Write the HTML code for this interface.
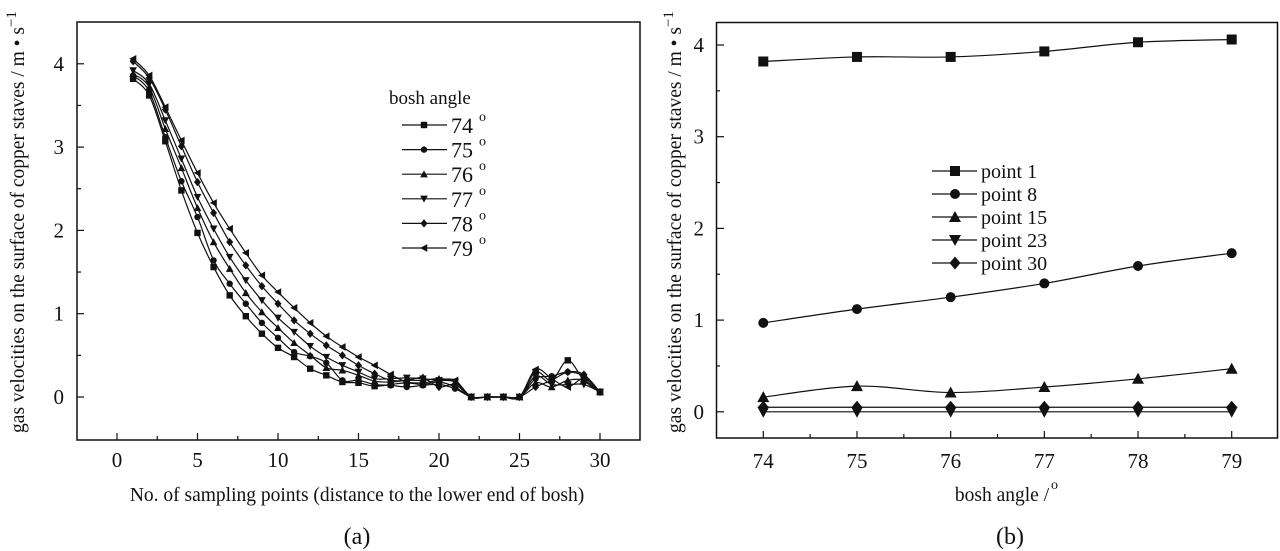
<!DOCTYPE html>
<html><head><meta charset="utf-8"><style>
html,body{margin:0;padding:0;background:#fff;}
svg{display:block;font-family:"Liberation Serif",serif;}
</style></head><body>
<svg id="fig" width="1280" height="551" viewBox="0 0 1280 551" xmlns="http://www.w3.org/2000/svg"></svg>
<script>
// ---- Panel (a) data ----
const aPoints = [1,2,3,4,5,6,7,8,9,10,11,12,13,14,15,16,17,18,19,20,21,22,23,24,25,26,27,28,29,30];
const aLabels = ['74','75','76','77','78','79'];
const a74 = [3.82,3.62,3.07,2.48,1.97,1.56,1.22,0.97,0.76,0.59,0.48,0.34,0.26,0.18,0.17,0.13,0.15,0.17,0.15,0.18,0.12,0,0,0,0,0.30,0.20,0.44,0.20,0.06];
const a75 = [3.86,3.67,3.12,2.59,2.16,1.64,1.36,1.12,0.89,0.71,0.54,0.49,0.41,0.20,0.20,0.15,0.14,0.12,0.14,0.15,0.10,0,0,0,0,0.22,0.25,0.30,0.25,0.06];
const a76 = [3.88,3.72,3.22,2.75,2.27,1.86,1.54,1.25,1.02,0.83,0.65,0.50,0.35,0.32,0.26,0.19,0.18,0.20,0.20,0.22,0.18,0,0,0,0,0.17,0.12,0.20,0.20,0.06];
const a77 = [3.92,3.76,3.32,2.86,2.40,2.02,1.68,1.40,1.16,0.95,0.78,0.61,0.48,0.38,0.30,0.22,0.22,0.23,0.22,0.20,0.18,0,0,0,0,0.25,0.15,0.15,0.15,0.06];
const a78 = [4.03,3.83,3.45,3.01,2.58,2.21,1.86,1.58,1.33,1.12,0.92,0.76,0.62,0.50,0.38,0.28,0.20,0.20,0.23,0.12,0.15,0,0,0,0,0.12,0.20,0.30,0.27,0.06];
const a79 = [4.06,3.86,3.48,3.08,2.69,2.33,2.02,1.73,1.46,1.26,1.07,0.89,0.73,0.60,0.48,0.38,0.27,0.18,0.17,0.20,0.20,0,0,0,0,0.33,0.22,0.12,0.22,0.06];
const aXTicks = [0,5,10,15,20,25,30];
const aYTicks = [0,1,2,3,4];
// ---- Panel (b) data ----
const bAngles = [74,75,76,77,78,79];
const bLabels = ['point 1','point 8','point 15','point 23','point 30'];
const bP1 = [3.82,3.87,3.87,3.93,4.03,4.06];
const bP8 = [0.97,1.12,1.25,1.40,1.59,1.73];
const bP15 = [0.16,0.28,0.21,0.27,0.36,0.47];
const bP23 = [0,0,0,0,0,0];
const bP30 = [0.05,0.05,0.05,0.05,0.05,0.05];
const bYTicks = [0,1,2,3,4];

const NS='http://www.w3.org/2000/svg';
const svg=document.getElementById('fig');
function mk(tag,attrs,parent){const e=document.createElementNS(NS,tag);for(const k in attrs)e.setAttribute(k,attrs[k]);(parent||svg).appendChild(e);return e;}
function marker(type,x,y,s,g){
  let e;
  if(type==='sq') e=mk('rect',{x:x-s,y:y-s,width:2*s,height:2*s,fill:'#111'},g);
  else if(type==='ci') e=mk('circle',{cx:x,cy:y,r:s,fill:'#111'},g);
  else if(type==='up') e=mk('polygon',{points:`${x},${y-s*1.2} ${x-s*1.2},${y+s} ${x+s*1.2},${y+s}`,fill:'#111'},g);
  else if(type==='dn') e=mk('polygon',{points:`${x},${y+s*1.2} ${x-s*1.2},${y-s} ${x+s*1.2},${y-s}`,fill:'#111'},g);
  else if(type==='di') e=mk('polygon',{points:`${x},${y-s*1.3} ${x+s*1.1},${y} ${x},${y+s*1.3} ${x-s*1.1},${y}`,fill:'#111'},g);
  else e=mk('polygon',{points:`${x-s*1.2},${y} ${x+s},${y-s*1.2} ${x+s},${y+s*1.2}`,fill:'#111'},g);
  return e;
}
function spline(pts){
  let d=`M${pts[0][0]},${pts[0][1]}`;
  for(let i=0;i<pts.length-1;i++){
    const p0=pts[Math.max(i-1,0)],p1=pts[i],p2=pts[i+1],p3=pts[Math.min(i+2,pts.length-1)];
    const c1=[p1[0]+(p2[0]-p0[0])/6,p1[1]+(p2[1]-p0[1])/6],c2=[p2[0]-(p3[0]-p1[0])/6,p2[1]-(p3[1]-p1[1])/6];
    d+=` C${c1[0]},${c1[1]} ${c2[0]},${c2[1]} ${p2[0]},${p2[1]}`;
  }
  return d;
}
function txt(s,x,y,size,anchor,g){const t=mk('text',{x:x,y:y,'font-size':size,'text-anchor':anchor||'middle',fill:'#111'},g);t.textContent=s;return t;}

// ===== Panel A =====
const ax=v=>117+(v-0)*16.1, ay=v=>397-v*83.3;
const gA=mk('g',{});


const fA=mk('rect',{x:77,y:22,width:563,height:418,fill:'none',stroke:'#111','stroke-width':1.5},gA);


for(let v=0;v<=30;v+=2.5){const x=ax(v);mk('line',{x1:x,y1:440,x2:x,y2:v%5===0?433:436,stroke:'#111','stroke-width':1.2},gA);}
aXTicks.forEach(v=>{const t=txt(String(v),ax(v),467,21,'middle',gA);});
for(let v=-0.5;v<=4.5;v+=0.5){const y=ay(v);if(y<24||y>438)continue;mk('line',{x1:77,y1:y,x2:Math.abs(v%1)<0.01?84:81,y2:y,stroke:'#111','stroke-width':1.2},gA);}
aYTicks.forEach(v=>{const t=txt(String(v),64,ay(v)+7,21,'end',gA);});
const aSeries=[a74,a75,a76,a77,a78,a79], aMk=['sq','ci','up','dn','di','lt'];
aSeries.forEach((s,i)=>{
  const g=mk('g',{},gA);
  
  
  const pts=aPoints.map((p,j)=>[ax(p),ay(s[j])]);
  mk('path',{d:spline(pts),fill:'none',stroke:'#111','stroke-width':1.2},g);
  pts.forEach(p=>marker(aMk[i],p[0],p[1],3.2,g));
});
// legend A
const lgA=mk('g',{},gA);


txt('bosh angle',389,104,19,'start',lgA);
aLabels.forEach((l,i)=>{
  const y=125+i*24.6;
  const e=mk('g',{},lgA);
  
  
  mk('line',{x1:402,y1:y,x2:447,y2:y,stroke:'#111','stroke-width':1.2},e);
  marker(aMk[i],424,y,3.2,e);
  txt(l,451,y+8,22,'start',e);
  txt('o',479,y-4,14,'start',e);
});
const ytA=txt('gas velocities on the surface of copper staves / m \u2022 s',0,0,19.5,'middle',gA);
ytA.setAttribute('transform','translate(24,222) rotate(-90)');


const supA=mk('tspan',{dy:-8,'font-size':15},ytA);supA.textContent='\u22121';
const xtA=txt('No. of sampling points (distance to the lower end of bosh)',357,501,19.5,'middle',gA);


const capA=txt('(a)',357,544,24,'middle',gA);



// ===== Panel B =====
const bx=v=>763.3+(v-74)*93.68, by=v=>411.8-v*91.7;
const gB=mk('g',{});


const fB=mk('rect',{x:716.5,y:22.5,width:561,height:415.5,fill:'none',stroke:'#111','stroke-width':1.5},gB);


for(let v=73.5;v<=79.5;v+=0.5){const x=bx(v);if(x<718||x>1276)continue;mk('line',{x1:x,y1:438,x2:x,y2:v%1===0?431:434,stroke:'#111','stroke-width':1.2},gB);}
bAngles.forEach(v=>{const t=txt(String(v),bx(v),468,21,'middle',gB);});
for(let v=-0.5;v<=4.5;v+=0.5){const y=by(v);if(y<24||y>436)continue;mk('line',{x1:716.5,y1:y,x2:Math.abs(v%1)<0.01?724:720,y2:y,stroke:'#111','stroke-width':1.2},gB);}
bYTicks.forEach(v=>{const t=txt(String(v),704,by(v)+7,21,'end',gB);});
const bSeries=[bP1,bP8,bP15,bP23,bP30], bMk=['sq','ci','up','dn','di'];
bSeries.forEach((s,i)=>{
  const g=mk('g',{},gB);
  
  
  const pts=bAngles.map((a,j)=>[bx(a),by(s[j])]);
  mk('path',{d:spline(pts),fill:'none',stroke:'#111','stroke-width':1.2},g);
  pts.forEach(p=>marker(bMk[i],p[0],p[1],5,g));
});
const lgB=mk('g',{},gB);


bLabels.forEach((l,i)=>{
  const y=171+i*23;
  const e=mk('g',{},lgB);
  
  
  mk('line',{x1:932,y1:y,x2:977,y2:y,stroke:'#111','stroke-width':1.2},e);
  marker(bMk[i],955,y,5,e);
  txt(l,981,y+7,20,'start',e);
});
const ytB=txt('gas velocities on the surface of copper staves / m \u2022 s',0,0,19.5,'middle',gB);
ytB.setAttribute('transform','translate(681,222) rotate(-90)');


const supB=mk('tspan',{dy:-8,'font-size':15},ytB);supB.textContent='\u22121';
const xtB=txt('bosh angle / ',1002,501,19.5,'middle',gB);


const sB=txt('o',1051,489,14,'start',gB);
const capB=txt('(b)',1010,544,24,'middle',gB);


</script>
</body></html>
